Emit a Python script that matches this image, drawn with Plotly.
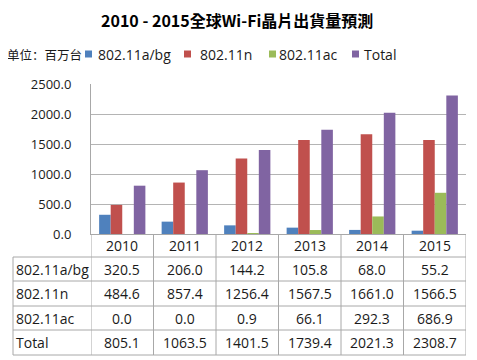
import plotly.graph_objects as go

# ---- data ----
years = ["2010", "2011", "2012", "2013", "2014", "2015"]
series_names = ["802.11a/bg", "802.11n", "802.11ac", "Total"]
abg = [320.5, 206.0, 144.2, 105.8, 68.0, 55.2]
n11 = [484.6, 857.4, 1256.4, 1567.5, 1661.0, 1566.5]
ac11 = [0.0, 0.0, 0.9, 66.1, 292.3, 686.9]
total = [805.1, 1063.5, 1401.5, 1739.4, 2021.3, 2308.7]
y_ticks = [0, 500, 1000, 1500, 2000, 2500]
title_text = "2010 - 2015全球Wi-Fi晶片出貨量預測"
unit_text = "单位：百万台"

colors = ["#4F81BD", "#C0504D", "#9BBB59", "#8064A2"]
series = [abg, n11, ac11, total]

OFF = 8  # page body margin
W, H = 477 - OFF, 360 - OFF
L, R = 91 - OFF, 11
AX_Y = 234 - OFF
T = 84 - OFF
B = H - AX_Y
PW, PH = W - L - R, AX_Y - T


def px(p):
    """reference screen pixel x -> paper x"""
    return (p - OFF - L) / PW


def py(p):
    """reference screen pixel y -> paper y"""
    return (AX_Y - (p - OFF)) / PH


GRID = "#b4b4b4"
LINE = "#a8a8a8"
TXT = "#1a1a1a"
FONT = "Open Sans"

fig = go.Figure()
for name, vals, c in zip(series_names, series, colors):
    fig.add_bar(x=years, y=vals, name=name, marker_color=c, marker_line_width=0)

shapes = []
annotations = []

# ---- table lines ----
row_lines = [257, 281, 306, 330, 355]
for yl in row_lines:
    shapes.append(dict(type="line", xref="paper", yref="paper",
                       x0=px(13), x1=1, y0=py(yl), y1=py(yl),
                       line=dict(color=LINE, width=1)))
for k in range(len(years) + 1):
    shapes.append(dict(type="line", xref="x", yref="paper",
                       x0=k - 0.5, x1=k - 0.5, y0=0, y1=py(355),
                       line=dict(color=LINE, width=1)))
shapes.append(dict(type="line", xref="paper", yref="paper",
                   x0=px(13), x1=px(13), y0=py(257), y1=py(355),
                   line=dict(color=LINE, width=1)))

# year header row
for i, yr in enumerate(years):
    annotations.append(dict(xref="x", yref="paper", x=i, y=py(245.5),
                            xanchor="center", yanchor="middle", text=yr,
                            showarrow=False, font=dict(family=FONT, size=14, color=TXT)))

row_centers = [269, 293.5, 318, 342.5]
for name, vals, yc in zip(series_names, series, row_centers):
    annotations.append(dict(xref="paper", yref="paper", x=px(14), y=py(yc),
                            xanchor="left", yanchor="middle", text=name,
                            showarrow=False, font=dict(family=FONT, size=14, color=TXT)))
    for i, v in enumerate(vals):
        annotations.append(dict(xref="x", yref="paper", x=i, y=py(yc),
                                xanchor="center", yanchor="middle", text=f"{v:.1f}",
                                showarrow=False, font=dict(family=FONT, size=14, color=TXT)))

# ---- legend (manual) ----
leg_sq = [85, 184, 269, 352]
leg_tx = [96, 198, 277, 362]
for x0, xt, name, c in zip(leg_sq, leg_tx, series_names, colors):
    shapes.append(dict(type="rect", xref="paper", yref="paper",
                       x0=px(x0), x1=px(x0 + 7), y0=py(57.5), y1=py(50.5),
                       fillcolor=c, line=dict(width=0)))
    annotations.append(dict(xref="paper", yref="paper", x=px(xt), y=py(54),
                            xanchor="left", yanchor="middle", text=name,
                            showarrow=False, font=dict(family=FONT, size=14, color=TXT)))
annotations.append(dict(xref="paper", yref="paper", x=px(5), y=py(54),
                        xanchor="left", yanchor="middle", text=unit_text,
                        showarrow=False,
                        font=dict(family="Noto Sans CJK SC", size=12.5, color=TXT)))

# ---- title ----
annotations.append(dict(xref="paper", yref="paper", x=px(237), y=py(20),
                        xanchor="center", yanchor="middle", text="<b>" + title_text + "</b>",
                        showarrow=False,
                        font=dict(family="Noto Sans CJK TC", size=16, color="black")))

fig.update_layout(
    width=W, height=H, autosize=False,
    margin=dict(l=L, r=R, t=T, b=B, pad=0),
    paper_bgcolor="white", plot_bgcolor="white",
    showlegend=False,
    barmode="group", bargap=0.26, bargroupgap=0,
    xaxis=dict(type="category", range=[-0.5, len(years) - 0.5], showline=True,
               linecolor=LINE, linewidth=1, ticks="", showgrid=False,
               showticklabels=False),
    yaxis=dict(range=[0, 2500], tickvals=y_ticks, tickformat=".1f", showgrid=True,
               gridcolor=GRID, gridwidth=1, showline=True, linecolor=LINE, linewidth=1,
               zeroline=False, ticks="", ticklabelstandoff=16,
               tickfont=dict(family=FONT, size=13, color=TXT)),
    shapes=shapes, annotations=annotations,
)

fig.write_html("out.html")
